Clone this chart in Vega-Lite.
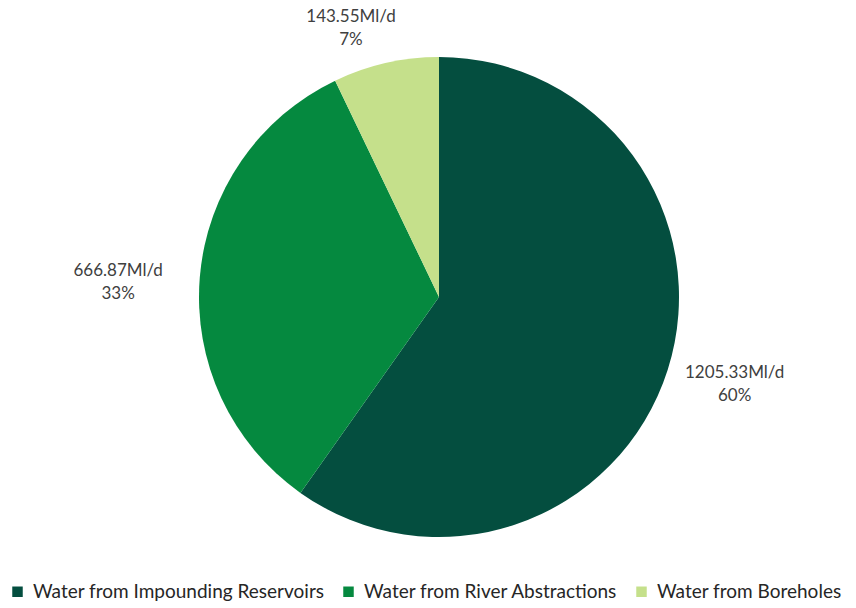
{
  "$schema": "https://vega.github.io/schema/vega-lite/v6.json",
  "width": 856,
  "height": 594,
  "autosize": {"type": "none"},
  "padding": {"left": 11, "top": 0, "right": 0, "bottom": 14},
  "background": "white",
  "config": {"view": {"stroke": null}, "font": "Lato", "text": {"lineBreak": "\n"}},
  "data": {"values": [
    {"source": "Water from Impounding Reservoirs", "value": 1205.33, "label": "1205.33Ml/d\n60%", "idx": 1},
    {"source": "Water from River Abstractions", "value": 666.87, "label": "666.87Ml/d\n33%", "idx": 2},
    {"source": "Water from Boreholes", "value": 143.55, "label": "143.55Ml/d\n7%", "idx": 3}
  ]},
  "transform": [
    {"stack": "value", "groupby": [], "sort": [{"field": "idx", "order": "ascending"}], "as": ["v0", "v1"]},
    {"calculate": "(datum.v0 + datum.v1) / 2", "as": "mid"}
  ],
  "encoding": {
    "color": {
      "field": "source", "type": "nominal",
      "scale": {"domain": ["Water from Impounding Reservoirs", "Water from River Abstractions", "Water from Boreholes"], "range": ["#044e3f", "#05893f", "#c5e08b"]},
      "legend": {"orient": "none", "legendX": -3, "legendY": 582, "direction": "horizontal", "title": null, "symbolType": "square", "symbolSize": 110, "symbolStrokeWidth": 0, "labelFontSize": 19, "labelFont": "Lato", "labelColor": "#262626", "labelLimit": 0, "columnPadding": 14, "labelOffset": 6, "symbolOpacity": 1}
    }
  },
  "layer": [
    {"mark": {"type": "arc", "outerRadius": 240},
     "encoding": {
       "theta": {"field": "v0", "type": "quantitative", "scale": {"domain": [0, 2015.75]}},
       "theta2": {"field": "v1"}
     }},
    {"transform": [{"filter": "datum.idx == 1"}], "mark": {"type": "text", "radius": 306, "fontSize": 17, "lineHeight": 23, "dy": -17, "dx": 4, "font": "Lato"}, "encoding": {"theta": {"field": "mid", "type": "quantitative"}, "text": {"field": "label"}, "color": {"value": "#404040"}}},
    {"transform": [{"filter": "datum.idx == 2"}], "mark": {"type": "text", "radius": 322, "fontSize": 17, "lineHeight": 23, "dy": 1, "font": "Lato"}, "encoding": {"theta": {"field": "mid", "type": "quantitative"}, "text": {"field": "label"}, "color": {"value": "#404040"}}},
    {"transform": [{"filter": "datum.idx == 3"}], "mark": {"type": "text", "radius": 266, "fontSize": 17, "lineHeight": 23, "dx": -29, "dy": -21, "font": "Lato"}, "encoding": {"theta": {"field": "mid", "type": "quantitative"}, "text": {"field": "label"}, "color": {"value": "#404040"}}}
  ]
}
